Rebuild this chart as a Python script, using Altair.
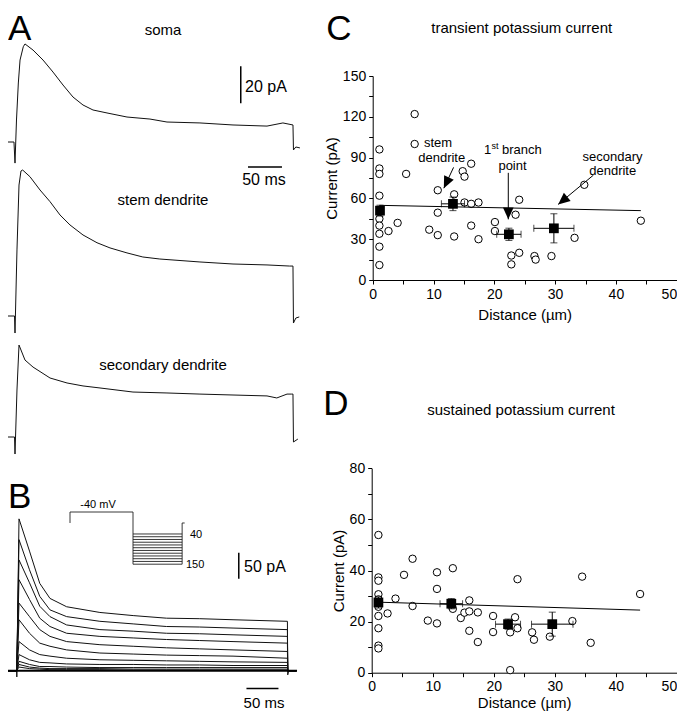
import altair as alt
import pandas as pd

FONT = "Liberation Sans"

# ---------------- Panel A: current traces (time in ms, current in pA) ----------------
SOMA_T = [-10.3, -1.5, 0, 2.2, 4.9, 7.4, 12.2, 14.7, 26.5, 41.2, 55.9, 70.6, 85.3, 100,
          114.7, 135.3, 164.7, 198.5, 223.5, 272, 320.6, 370.6, 394, 408.8, 409.5, 413, 419]
SOMA_I = [0, 0, -11.4, 11.9, 31.9, 44.3, 51.5, 53, 49.7, 44.3, 37.8, 30.8, 24.3, 20,
          17.3, 15.7, 13.5, 12.4, 10.8, 10.3, 9.2, 8.6, 10.3, 9.2, -4.3, -2.7, -3.2]

STEM_T = [-10.3, -0.7, 0, 2.9, 5.9, 8.8, 11.3, 22, 36.8, 51.5, 66.2, 80.9, 100, 120.6,
          139.7, 164.7, 188, 213, 272, 320.6, 370.6, 404, 408.8, 409.5, 413, 418]
STEM_I = [0, 0, -9.2, 35.7, 70.8, 78.4, 78.9, 75.3, 68.1, 61.8, 54.6, 49.2, 43.8, 39.6,
          36.8, 34.1, 31.9, 30.8, 29.2, 28.1, 27.6, 27, 27, -3.8, -1.1, -0.5]

SEC_T = [-10.3, -0.7, 0, 2.9, 5.9, 14.7, 26.5, 51.5, 76.5, 100, 125, 173.5, 223.5, 272,
         320.6, 370.6, 385, 400, 407, 408.8, 409.5, 416]
SEC_I = [0, 0, -9.2, 25.4, 49.7, 41.6, 37.8, 31.9, 29.2, 27.6, 26.5, 24.3, 23.8, 23.2,
         22.7, 22.2, 21.1, 23.2, 23.2, 23.2, -2.7, -1.1]

# ---------------- Panel B: family of traces ----------------
B_T = [3.6, 20, 36, 52, 78, 130, 182, 234, 286, 338, 423]
B_TRACES = [
    [292, 230, 168, 139, 123, 112, 106, 101, 100, 98, 95],
    [252, 194, 143, 117, 104, 95, 90, 85, 84, 82, 79],
    [213, 169, 124, 104, 88, 79, 76, 72, 71, 69, 66],
    [175, 137, 101, 85, 72, 66, 63, 60, 58, 56, 53],
    [130, 104, 79, 66, 56, 50, 47, 44, 42, 40, 37],
    [98, 72, 53, 47, 40, 34, 32, 30, 29, 28, 24],
    [56, 40, 31, 28, 24, 21, 20, 19, 18, 17, 16],
    [31, 21, 16, 15, 13, 12, 12, 11, 11, 10, 10],
    [18, 12, 8, 8, 7, 6, 6, 6, 6, 6, 6],
    [12, 7, 5, 4, 4, 4, 3, 3, 3, 3, 3],
    [7, 4, 3, 2, 2, 2, 1, 1, 1, 1, 1],
]
INSET_LEVELS = list(range(40, 151, 10))

# ---------------- Panel C: transient current ----------------
C_DIST = [1.1] * 9 + [2.6, 4.1, 5.5, 6.9, 6.9, 9.3, 10.7, 10.7, 10.7, 13.4, 13.4, 14.8, 15.1,
                      15.1, 16.2, 16.2, 16.2, 17.4, 17.4, 20.1, 20.1, 22.8, 22.8, 23.5, 24.1,
                      24.1, 26.6, 26.8, 29.4, 33.2, 34.8, 44.1]
C_CURR = [96, 82, 78, 62, 45, 40, 34, 24.5, 11] + [36, 42, 78, 122, 100, 37, 66, 49.5, 33, 63,
                                                   32, 80, 76, 57, 85.5, 56, 40, 57, 30, 42.6,
                                                   36, 18, 11.5, 48, 59, 20, 17.6, 15, 17.6,
                                                   31, 70, 43.6]
C_MEAN_X = [1.2, 13.2, 22.4, 29.8]
C_MEAN_Y = [51, 56, 33.6, 38]
C_SEM_X = [0, 1.9, 2.0, 3.3]
C_SEM_Y = [4, 5, 4.5, 10.7]
C_FIT_X = [1.1, 44.1]
C_FIT_Y = [54.9, 51.0]

# ---------------- Panel D: sustained current ----------------
D_DIST = [1.1] * 10 + [2.6, 3.9, 5.3, 6.7, 6.7, 9.2, 10.7, 10.7, 10.7, 13.3, 13.3, 14.6, 15.2,
                       16, 16, 16, 17.4, 17.4, 19.9, 19.9, 22.7, 22.7, 23.5, 23.9, 23.9, 26.3,
                       26.6, 29.2, 32.9, 34.5, 35.9, 44]
D_CURR = [53.9, 37.3, 36, 30.7, 28.7, 25.8, 22.2, 17.4, 10.6, 9.5] + [
    23.2, 29, 38.3, 44.6, 26.1, 20.4, 39.3, 32.8, 19.3, 40.9, 25, 21.4, 23.5, 28.3, 24, 16.4,
    23.6, 12, 22.2, 15.9, 1, 15.8, 21.7, 17.4, 36.6, 15.8, 12.9, 14.1, 20.2, 37.6, 11.7, 30.8]
D_MEAN_X = [1.1, 13.05, 22.35, 29.6]
D_MEAN_Y = [27.5, 27.0, 19.0, 19.0]
D_SEM_X = [0, 1.85, 2.05, 3.4]
D_SEM_Y = [2.2, 2.0, 2.0, 4.7]
D_FIT_X = [1.1, 44.0]
D_FIT_Y = [27.6, 24.5]

W, H = 669, 703


def lin(domain, rng):
    return alt.Scale(domain=domain, range=rng, nice=False, zero=False)


def trace_df(ts, vals):
    return pd.DataFrame({"t": ts, "i": vals, "k": list(range(len(ts)))})


def trace_layer(df, xs, ys, width=1.0, detail=False):
    enc = dict(
        x=alt.X("t:Q", scale=xs, axis=None),
        y=alt.Y("i:Q", scale=ys, axis=None),
        order=alt.Order("k:Q"),
    )
    if detail:
        enc["detail"] = alt.Detail("trace:N")
    return alt.Chart(df).mark_line(color="#111111", strokeWidth=width).encode(**enc)


ONE = pd.DataFrame({"a": [0]})


def label(txt, x, y, size=15, align="center", baseline="middle", dy=0):
    return alt.Chart(ONE).mark_text(
        fontSize=size, align=align, baseline=baseline, color="black", font=FONT, dy=dy
    ).encode(x=alt.value(x), y=alt.value(y), text=alt.value(txt))


layers = []

# ---- Panel A
A_X = lin([0, 400], [7, 279])
SOMA_Y = lin([0, 50], [134, 41.5])
STEM_Y = lin([0, 50], [308, 215.5])
SEC_Y = lin([0, 50], [429, 336.5])
layers.append(trace_layer(trace_df(SOMA_T, SOMA_I), A_X, SOMA_Y))
layers.append(trace_layer(trace_df(STEM_T, STEM_I), A_X, STEM_Y))
layers.append(trace_layer(trace_df(SEC_T, SEC_I), A_X, SEC_Y))

# scale bars A (20 pA, 50 ms)
layers.append(alt.Chart(pd.DataFrame({"t": [332], "i0": [21], "i1": [41]})).mark_rule(
    color="black", strokeWidth=1.5).encode(
    x=alt.X("t:Q", scale=A_X, axis=None),
    y=alt.Y("i0:Q", scale=SOMA_Y, axis=None), y2="i1:Q"))
layers.append(alt.Chart(pd.DataFrame({"t0": [342.6], "t1": [392.6], "i": [-13.5]})).mark_rule(
    color="black", strokeWidth=1.5).encode(
    x=alt.X("t0:Q", scale=A_X, axis=None), x2="t1:Q",
    y=alt.Y("i:Q", scale=SOMA_Y, axis=None)))

layers += [
    label("A", 0, 32, size=35, align="left", baseline="alphabetic"),
    label("soma", 155, 22),
    label("stem dendrite", 155, 192),
    label("secondary dendrite", 155, 357),
    label("20 pA", 237, 79, size=16, align="left"),
    label("50 ms", 256, 172, size=16),
]

# ---- Panel B
B_X = lin([0, 400], [8.7, 264.7])
B_Y = lin([0, 100], [662.7, 610.7])
rows = []
for n, vals in enumerate(B_TRACES):
    if n == 0:
        ts = [-19, 0, 0.2] + B_T + [423.5, 425, 437]
        vs = [0, 0, -12] + vals + [-8, 0, 0]
    else:
        ts = [-19, 0] + B_T + [423.5, 437]
        vs = [0, 0] + vals + [0, 0]
    for k, (t, v) in enumerate(zip(ts, vs)):
        rows.append({"trace": n, "t": t, "i": v, "k": k})
layers.append(trace_layer(pd.DataFrame(rows), B_X, B_Y, width=1.0, detail=True))
layers.append(alt.Chart(pd.DataFrame({"t0": [-19], "t1": [438], "i": [0]})).mark_rule(
    color="black", strokeWidth=2).encode(
    x=alt.X("t0:Q", scale=B_X, axis=None), x2="t1:Q",
    y=alt.Y("i:Q", scale=B_Y, axis=None)))
# scale bars B
layers.append(alt.Chart(pd.DataFrame({"t": [347], "i0": [177], "i1": [227]})).mark_rule(
    color="black", strokeWidth=1.5).encode(
    x=alt.X("t:Q", scale=B_X, axis=None),
    y=alt.Y("i0:Q", scale=B_Y, axis=None), y2="i1:Q"))
layers.append(alt.Chart(pd.DataFrame({"t0": [359], "t1": [409], "i": [-34]})).mark_rule(
    color="black", strokeWidth=1.5).encode(
    x=alt.X("t0:Q", scale=B_X, axis=None), x2="t1:Q",
    y=alt.Y("i:Q", scale=B_Y, axis=None)))

# inset voltage protocol
IN_X = lin([0, 100], [62, 125])
IN_Y = lin([-40, 150], [504, 556.2])
proto = []
path = [(0, 0), (0, -40), (100, -40), (100, 150)]
for k, (t, v) in enumerate(path):
    proto.append({"trace": "hold", "t": t, "i": v, "k": k})
for lv in INSET_LEVELS:
    proto.append({"trace": f"s{lv}", "t": 100, "i": lv, "k": 0})
    proto.append({"trace": f"s{lv}", "t": 178, "i": lv, "k": 1})
for k, (t, v) in enumerate([(178, 150), (178, 0), (182, 0)]):
    proto.append({"trace": "ret", "t": t, "i": v, "k": k})
layers.append(alt.Chart(pd.DataFrame(proto)).mark_line(color="#222222", strokeWidth=0.9).encode(
    x=alt.X("t:Q", scale=IN_X, axis=None),
    y=alt.Y("i:Q", scale=IN_Y, axis=None),
    detail="trace:N", order="k:Q"))

layers += [
    label("B", 0, 500, size=35, align="left", baseline="alphabetic"),
    label("-40 mV", 90, 497, size=11),
    label("40", 182, 527, size=11, align="left"),
    label("150", 178, 557, size=11, align="left"),
    label("50 pA", 236, 559, size=16, align="left"),
    label("50 ms", 256, 695, size=15),
]


# ---- scatter panels
def scatter_panel(dist, curr, mx, my, sx, sy, fx, fy, xs, ys, y_vals, y_major, x_off, y_off,
                  title_pad):
    out = []
    xax = alt.Axis(
        orient="bottom", offset=y_off, values=list(range(0, 51, 5)),
        labelExpr="datum.value % 10 === 0 ? datum.label : ''",
        labelAlign=alt.condition("datum.value >= 50", alt.value("right"), alt.value("center")),
        title="Distance (µm)", titleFontSize=15, titleFontWeight="normal", titleColor="black",
        titlePadding=title_pad, titleFont=FONT,
        labelFontSize=14, labelColor="black", labelFont=FONT, labelPadding=3,
        labelFlush=False, labelOverlap=False,
        tickSize=4, tickColor="black", domainColor="black", grid=False)
    yax = alt.Axis(
        orient="left", offset=x_off, values=y_vals,
        labelExpr=f"datum.value % {y_major} === 0 ? datum.label : ''",
        title="Current (pA)", titleFontSize=15, titleFontWeight="normal", titleColor="black",
        titlePadding=3, titleFont=FONT,
        labelFontSize=14, labelColor="black", labelFont=FONT, labelPadding=3,
        labelOverlap=False, labelFlush=False,
        tickSize=4, tickColor="black", domainColor="black", grid=False)
    pts = pd.DataFrame({"x": dist, "y": curr})
    out.append(alt.Chart(pts).mark_point(
        shape="circle", filled=True, fill="white", stroke="black", strokeWidth=1,
        size=55, opacity=1).encode(
        x=alt.X("x:Q", scale=xs, axis=xax), y=alt.Y("y:Q", scale=ys, axis=yax)))
    fit = pd.DataFrame({"x": fx, "y": fy})
    out.append(alt.Chart(fit).mark_line(color="black", strokeWidth=1).encode(
        x=alt.X("x:Q", scale=xs, axis=None), y=alt.Y("y:Q", scale=ys, axis=None)))
    m = pd.DataFrame({"x": mx, "y": my, "ex": sx, "ey": sy})
    m["x0"] = m.x - m.ex
    m["x1"] = m.x + m.ex
    m["y0"] = m.y - m.ey
    m["y1"] = m.y + m.ey
    mxe = m[m.ex > 0]
    out.append(alt.Chart(m).mark_rule(color="black", strokeWidth=1).encode(
        x=alt.X("x:Q", scale=xs, axis=None),
        y=alt.Y("y0:Q", scale=ys, axis=None), y2="y1:Q"))
    out.append(alt.Chart(mxe).mark_rule(color="black", strokeWidth=1).encode(
        x=alt.X("x0:Q", scale=xs, axis=None), x2="x1:Q",
        y=alt.Y("y:Q", scale=ys, axis=None)))
    for col in ["y0", "y1"]:
        out.append(alt.Chart(m).mark_tick(orient="horizontal", size=7, thickness=1,
                                          color="black").encode(
            x=alt.X("x:Q", scale=xs, axis=None),
            y=alt.Y(f"{col}:Q", scale=ys, axis=None)))
    for col in ["x0", "x1"]:
        out.append(alt.Chart(mxe).mark_tick(orient="vertical", size=7, thickness=1,
                                            color="black").encode(
            x=alt.X(f"{col}:Q", scale=xs, axis=None),
            y=alt.Y("y:Q", scale=ys, axis=None)))
    out.append(alt.Chart(m).mark_point(shape="square", filled=True, color="black",
                                       size=95, opacity=1).encode(
        x=alt.X("x:Q", scale=xs, axis=None), y=alt.Y("y:Q", scale=ys, axis=None)))
    return out


C_X = lin([0, 50], [364.7, 668.7])
C_Y = lin([0, 150], [272, 68])
layers += scatter_panel(C_DIST, C_CURR, C_MEAN_X, C_MEAN_Y, C_SEM_X, C_SEM_Y, C_FIT_X, C_FIT_Y,
                        C_X, C_Y, list(range(0, 151, 15)), 30, -364.7, 272 - H, 6)

# arrows in C (tail -> tip, in data units)
ARROWS = pd.DataFrame({
    "x0": [13.3, 22.3, 36.3], "y0": [82.8, 78.8, 77.1],
    "x1": [11.7, 22.3, 30.5], "y1": [67.5, 44.6, 55.6],
    "ang": [25.5, 0, 50.5]})
layers.append(alt.Chart(ARROWS).mark_rule(color="black", strokeWidth=1).encode(
    x=alt.X("x0:Q", scale=C_X, axis=None), x2="x1:Q",
    y=alt.Y("y0:Q", scale=C_Y, axis=None), y2="y1:Q"))
layers.append(alt.Chart(ARROWS).mark_point(
    shape="M0,0L-0.45,-1L0.45,-1Z", filled=True, color="black", size=560, opacity=1).encode(
    x=alt.X("x1:Q", scale=C_X, axis=None), y=alt.Y("y1:Q", scale=C_Y, axis=None),
    angle=alt.Angle("ang:Q", scale=None)))

layers += [
    label("C", 331, 32, size=35, baseline="alphabetic"),
    label("transient potassium current", 513.7, 20, size=15),
    label("stem", 430, 134.7, size=13),
    label("dendrite", 433.7, 150.3, size=13),
    label("1", 476, 142, size=13, align="left"),
    label("st", 483.5, 138, size=9, align="left"),
    label("branch", 494, 142, size=13, align="left"),
    label("point", 504.5, 158, size=13),
    label("secondary", 604.5, 148.7, size=13),
    label("dendrite", 604.7, 163, size=13),
]

D_X = lin([0, 50], [363.7, 668.7])
D_Y = lin([0, 80], [664.7, 460.3])
layers += scatter_panel(D_DIST, D_CURR, D_MEAN_X, D_MEAN_Y, D_SEM_X, D_SEM_Y, D_FIT_X, D_FIT_Y,
                        D_X, D_Y, list(range(0, 81, 10)), 20, -363.7, 664.7 - H, 2)
layers += [
    label("D", 328, 407, size=35, baseline="alphabetic"),
    label("sustained potassium current", 513, 402, size=15),
]

chart = alt.layer(*layers).resolve_scale(
    x="independent", y="independent"
).properties(
    width=W, height=H, autosize=alt.AutoSizeParams(type="none"), padding=0
).configure_view(stroke=None).configure_text(font=FONT)

chart.save("out.html", embed_options={"renderer": "svg", "actions": False})
